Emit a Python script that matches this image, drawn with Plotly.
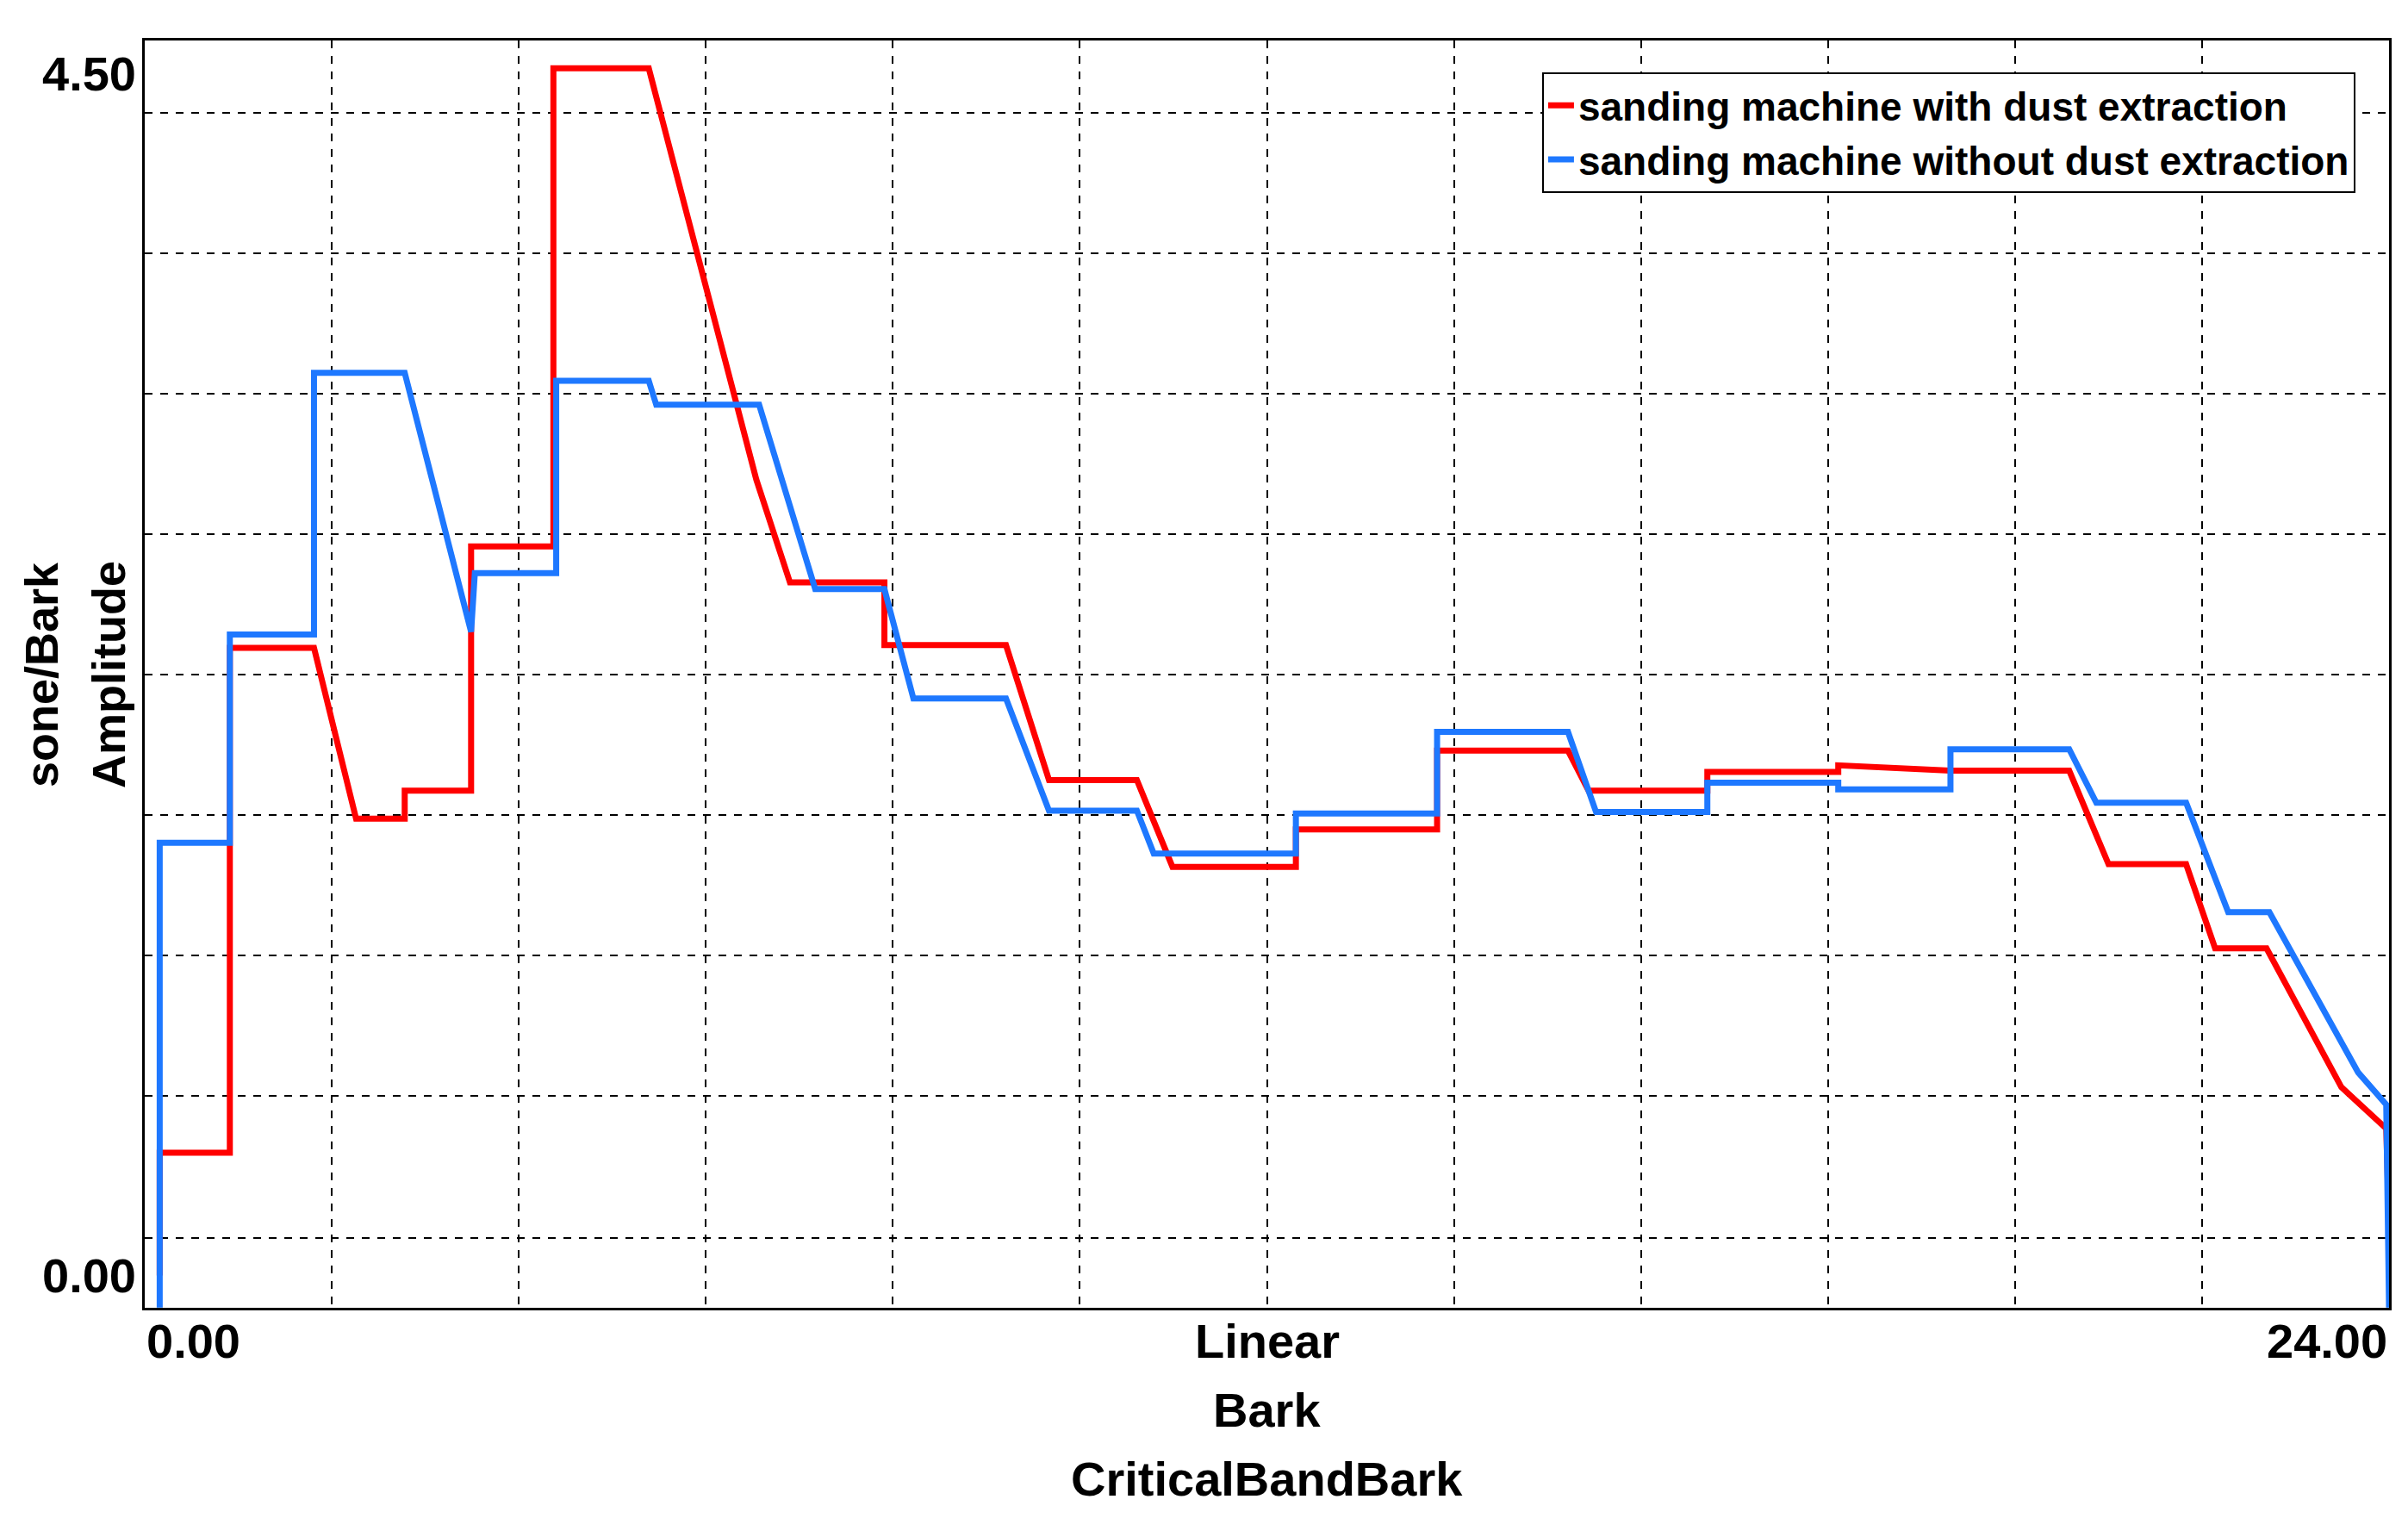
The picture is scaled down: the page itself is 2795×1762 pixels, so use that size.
import plotly.graph_objects as go

red_x = [0.16,0.16,0.91,0.91,1.81,2.26,2.78,2.78,3.49,3.49,4.37,4.37,5.39,6.54,6.90,7.91,7.91,9.21,9.67,10.61,10.99,12.31,12.31,13.82,13.82,15.22,15.44,16.71,16.71,18.11,18.11,19.31,20.58,21.00,21.83,22.14,22.69,23.49,23.97,24.0]
red_y = [0.0,0.46,0.46,2.35,2.35,1.71,1.71,1.815,1.815,2.73,2.73,4.52,4.52,2.98,2.595,2.595,2.36,2.36,1.855,1.855,1.53,1.53,1.67,1.67,1.965,1.965,1.815,1.815,1.885,1.885,1.91,1.89,1.89,1.54,1.54,1.225,1.225,0.705,0.55,0.2]
blue_x = [0.16,0.16,0.91,0.91,1.81,1.81,2.78,3.49,3.53,4.40,4.40,5.39,5.47,6.57,7.17,7.91,8.22,9.21,9.67,10.61,10.79,12.31,12.31,13.82,13.82,15.22,15.52,16.71,16.71,18.11,18.11,19.31,19.31,20.58,20.87,21.83,22.28,22.72,23.67,23.97,24.0]
blue_y = [-0.12,1.62,1.62,2.40,2.40,3.38,3.38,2.41,2.63,2.63,3.35,3.35,3.26,3.26,2.57,2.57,2.16,2.16,1.74,1.74,1.58,1.58,1.73,1.73,2.035,2.035,1.735,1.735,1.845,1.845,1.82,1.82,1.97,1.97,1.77,1.77,1.36,1.36,0.76,0.64,-0.12]
x_grid = [2,4,6,8,10,12,14,16,18,20,22]
y_grid = [0.139,0.671,1.197,1.723,2.249,2.775,3.30,3.827,4.353]
names = ["sanding machine with dust extraction", "sanding machine without dust extraction"]

F = "Liberation Sans"
fig = go.Figure()
fig.add_trace(go.Scatter(x=red_x, y=red_y, mode="lines", name="<b>" + names[0] + "</b>", line=dict(color="#ff0000", width=7)))
fig.add_trace(go.Scatter(x=blue_x, y=blue_y, mode="lines", name="<b>" + names[1] + "</b>", line=dict(color="#1e78ff", width=7)))

fig.update_layout(
    width=2795, height=1762, paper_bgcolor="white", plot_bgcolor="white",
    margin=dict(l=160, r=30, t=39, b=252),
    font=dict(family=F, color="black"),
    showlegend=True,
    legend=dict(x=0.985, y=0.975, xanchor="right", yanchor="top", bordercolor="black", borderwidth=2,
                bgcolor="white", font=dict(size=46, family=F, color="black"), tracegroupgap=0),
    xaxis=dict(range=[0,24], tickvals=x_grid, showticklabels=False, showgrid=True, gridcolor="black",
               griddash="dash", gridwidth=2, zeroline=False, showline=True, linecolor="black", linewidth=3, mirror=True),
    yaxis=dict(range=[-0.121,4.624], tickvals=y_grid, showticklabels=False, showgrid=True, gridcolor="black",
               griddash="dash", gridwidth=2, zeroline=False, showline=True, linecolor="black", linewidth=3, mirror=True),
)
ann = [
    dict(x=0, y=0, xref="x", yref="paper", text="<b>0.00</b>", xanchor="left", yanchor="top", yshift=-5, font=dict(size=56)),
    dict(x=24, y=0, xref="x", yref="paper", text="<b>24.00</b>", xanchor="right", yanchor="top", yshift=-5, font=dict(size=56)),
    dict(x=12, y=0, xref="x", yref="paper", text="<b>Linear</b>", yanchor="top", yshift=-5, font=dict(size=56)),
    dict(x=12, y=0, xref="x", yref="paper", text="<b>Bark</b>", yanchor="top", yshift=-85, font=dict(size=56)),
    dict(x=12, y=0, xref="x", yref="paper", text="<b>CriticalBandBark</b>", yanchor="top", yshift=-165, font=dict(size=56)),
    dict(x=0, y=4.5, xref="paper", yref="y", text="<b>4.50</b>", xanchor="right", xshift=-8, font=dict(size=56)),
    dict(x=0, y=0, xref="paper", yref="y", text="<b>0.00</b>", xanchor="right", xshift=-8, font=dict(size=56)),
    dict(x=0, y=2.25, xref="paper", yref="y", text="<b>Amplitude</b>", textangle=-90, xanchor="right", xshift=-10, font=dict(size=54)),
    dict(x=0, y=2.25, xref="paper", yref="y", text="<b>sone/Bark</b>", textangle=-90, xanchor="right", xshift=-88, font=dict(size=54)),
]
for a in ann:
    a["showarrow"] = False
    a["font"]["family"] = F
    a["font"]["color"] = "black"
fig.update_layout(annotations=ann)
fig.write_html("out.html")
